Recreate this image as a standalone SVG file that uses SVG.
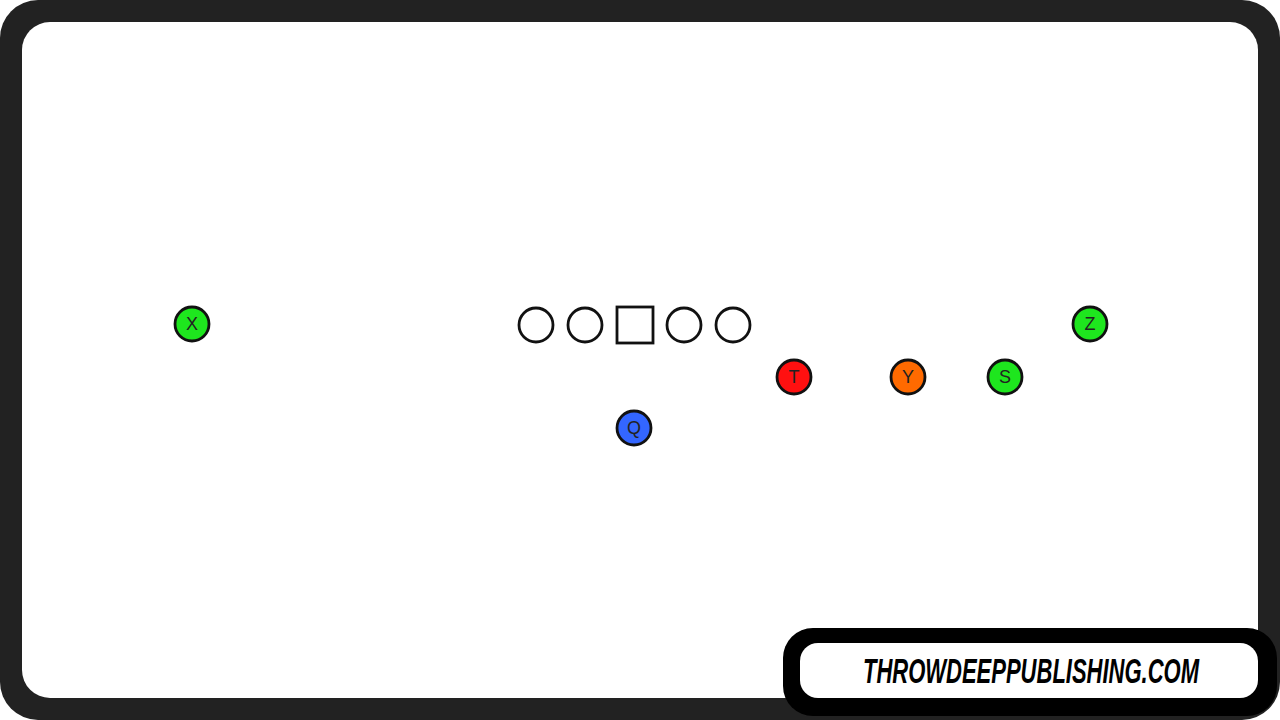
<svg xmlns="http://www.w3.org/2000/svg" width="1280" height="720" viewBox="0 0 1280 720">
<style>
.p{stroke:#111;stroke-width:2.8}
.l{fill:#fff;stroke:#111;stroke-width:2.8}
.t{font-family:"Liberation Sans",Arial,sans-serif;font-size:18px;fill:#222;text-anchor:middle;dominant-baseline:central}
</style>
<rect x="0" y="0" width="1280" height="720" rx="38" fill="#222"/>
<rect x="22" y="22" width="1236" height="676" rx="28" fill="#fff"/>
<g id="X"><circle class="p" cx="192" cy="324" r="17" fill="#1ee61e"/><text class="t" x="192" y="324">X</text></g>
<g id="LT"><circle class="l" cx="536" cy="325" r="17"/></g>
<g id="LG"><circle class="l" cx="585" cy="325" r="17"/></g>
<g id="C"><rect class="l" x="617" y="307" width="36" height="36"/></g>
<g id="RG"><circle class="l" cx="684" cy="325" r="17"/></g>
<g id="RT"><circle class="l" cx="733" cy="325" r="17"/></g>
<g id="Q"><circle class="p" cx="634" cy="428" r="17" fill="#3366ff"/><text class="t" x="634" y="428">Q</text></g>
<g id="T"><circle class="p" cx="794" cy="377" r="17" fill="#ff1010"/><text class="t" x="794" y="377">T</text></g>
<g id="Y"><circle class="p" cx="908" cy="377" r="17" fill="#ff6a00"/><text class="t" x="908" y="377">Y</text></g>
<g id="S"><circle class="p" cx="1005" cy="377" r="17" fill="#1ee61e"/><text class="t" x="1005" y="377">S</text></g>
<g id="Z"><circle class="p" cx="1090" cy="324" r="17" fill="#1ee61e"/><text class="t" x="1090" y="324">Z</text></g>
<g id="connectors"></g>
<g id="badge">
<rect x="783" y="628" width="494" height="88" rx="30" fill="#000"/>
<rect x="800" y="643" width="458" height="55" rx="18" fill="#fff"/>
<text transform="translate(1031,683) scale(1,1.6)" x="0" y="0" text-anchor="middle" font-family="Liberation Sans, Arial, sans-serif" font-weight="bold" font-style="italic" font-size="22" fill="#000">THROWDEEPPUBLISHING.COM</text>
</g>
</svg>
